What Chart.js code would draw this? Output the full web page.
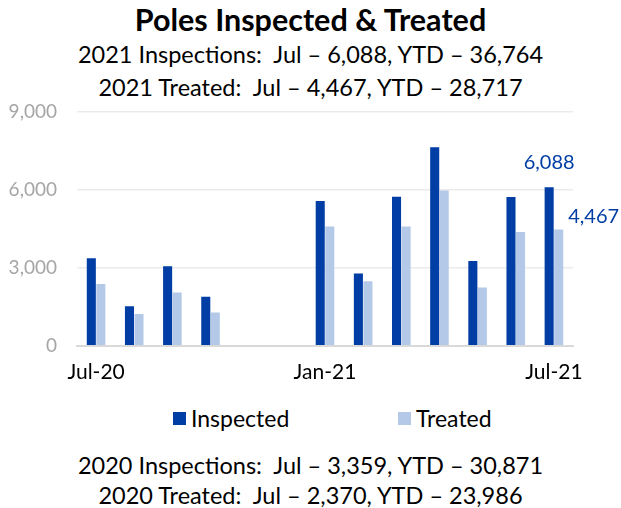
<!DOCTYPE html>
<html>
<head>
<meta charset="utf-8">
<script src="https://cdn.jsdelivr.net/npm/chart.js@4/dist/chart.umd.min.js"></script>
<style>
  body { margin: 0; background: #fff; font-family: "Lato", sans-serif; }
  #page { position: relative; width: 621px; height: 508px; overflow: hidden; }
  .txt { position: absolute; left: 0; width: 621px; text-align: center; color: #000; white-space: pre; line-height: 30px; }
  #title { top: 4px; font-size: 30.5px; font-weight: bold; }
  .sub { font-size: 23.5px; }
  #wrap { position: absolute; left: 0; top: 80px; width: 621px; height: 311px; }
  #legend { position: absolute; top: 403px; left: 0; width: 621px; height: 30px; font-size: 23px; line-height: 30px; }
  #legend span { position: absolute; top: 0; }
  #legend i { position: absolute; top: 9px; width: 13px; height: 13px; }
</style>
</head>
<body>
<div id="page">
  <div id="title" class="txt">Poles Inspected &amp; Treated</div>
  <div class="txt sub" style="top:39px">2021 Inspections:  Jul – 6,088, YTD – 36,764</div>
  <div class="txt sub" style="top:72px">2021 Treated:  Jul – 4,467, YTD – 28,717</div>
  <div id="wrap"><canvas id="chart"></canvas></div>
  <div id="legend"></div>
  <div class="txt sub" style="top:450px">2020 Inspections:  Jul – 3,359, YTD – 30,871</div>
  <div class="txt sub" style="top:480px">2020 Treated:  Jul – 2,370, YTD – 23,986</div>
</div>
<script>
// datos
const months = ["Jul-20", "Aug-20", "Sep-20", "Oct-20", "Nov-20", "Dec-20", "Jan-21", "Feb-21", "Mar-21", "Apr-21", "May-21", "Jun-21", "Jul-21"];
const shownLabels = ["Jul-20", "Jan-21", "Jul-21"];
const inspected = [3359, 1520, 3050, 1885, 0, 0, 5555, 2775, 5720, 7625, 3260, 5710, 6088];
const treated = [2370, 1225, 2050, 1275, 0, 0, 4585, 2475, 4585, 5965, 2240, 4370, 4467];
const yTicks = [0, 3000, 6000, 9000];

const darkBlue = "#003da5";
const lightBlue = "#b4c9e8";

// etiquetas del ultimo mes
const lastLabels = {
  id: "lastLabels",
  afterDatasetsDraw(chart) {
    const ctx = chart.ctx;
    const last = months.length - 1;
    const barI = chart.getDatasetMeta(0).data[last];
    const barT = chart.getDatasetMeta(1).data[last];
    ctx.save();
    ctx.fillStyle = darkBlue;
    ctx.font = "20px Lato";
    ctx.textAlign = "center";
    ctx.textBaseline = "middle";
    ctx.fillText(inspected[last].toLocaleString("en-US"), barI.x, barI.y - 25);
    ctx.textAlign = "left";
    ctx.fillText(treated[last].toLocaleString("en-US"), barT.x + barT.width / 2 + 5, barT.y - 13);
    ctx.restore();
  }
};

const chart = new Chart(document.getElementById("chart").getContext("2d"), {
  type: "bar",
  data: {
    labels: months,
    datasets: [
      { label: "Inspected", data: inspected, backgroundColor: darkBlue },
      { label: "Treated", data: treated, backgroundColor: lightBlue }
    ]
  },
  options: {
    responsive: true,
    maintainAspectRatio: false,
    animation: false,
    categoryPercentage: 0.5,
    barPercentage: 0.95,
    layout: { padding: { left: 0, right: 48, top: 2, bottom: 0 } },
    plugins: {
      tooltip: { enabled: false },
      legend: { display: false }
    },
    scales: {
      y: {
        min: 0,
        max: 9000,
        afterBuildTicks: (s) => { s.ticks = yTicks.map(v => ({ value: v })); },
        afterFit: (s) => { s.width = 77; },
        grid: { color: "#ebebeb", lineWidth: 1.5, drawTicks: false },
        border: { display: false },
        ticks: {
          color: "#a6a6a6",
          font: { family: "Lato", size: 19 },
          padding: 20,
          callback: (v) => v.toLocaleString("en-US")
        }
      },
      x: {
        grid: { display: false },
        border: { color: "#d9d9d9", width: 2 },
        ticks: {
          color: "#000",
          font: { family: "Lato", size: 21 },
          maxRotation: 0,
          autoSkip: false,
          padding: 6,
          callback: function (v) {
            const l = this.getLabelForValue(v);
            return shownLabels.includes(l) ? l : "";
          }
        }
      }
    }
  },
  plugins: [lastLabels]
});

// leyenda
const legendPos = [173, 398];
const legend = document.getElementById("legend");
chart.data.datasets.forEach((ds, i) => {
  const box = document.createElement("i");
  box.style.left = legendPos[i] + "px";
  box.style.background = ds.backgroundColor;
  const txt = document.createElement("span");
  txt.style.left = (legendPos[i] + 18) + "px";
  txt.textContent = ds.label;
  legend.appendChild(box);
  legend.appendChild(txt);
});
</script>
</body>
</html>
